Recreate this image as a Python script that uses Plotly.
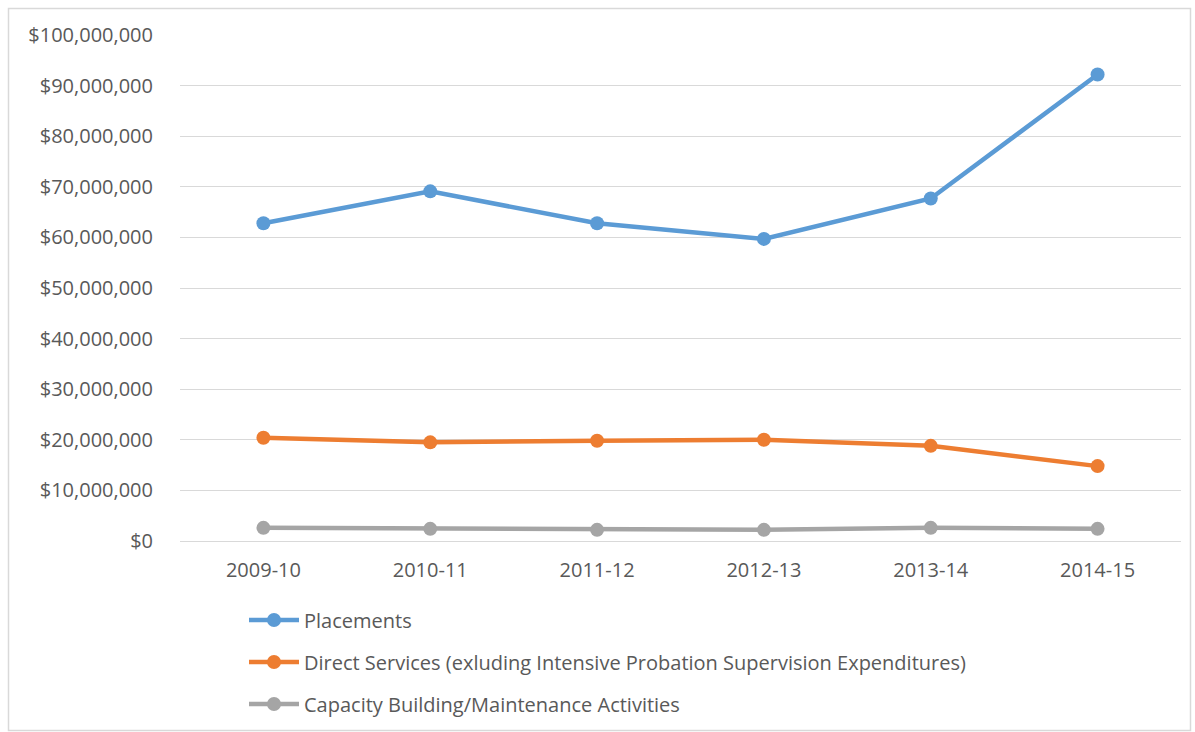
import plotly.graph_objects as go

years = ["2009-10", "2010-11", "2011-12", "2012-13", "2013-14", "2014-15"]
placements = [62.8e6, 69.1e6, 62.8e6, 59.7e6, 67.7e6, 92.2e6]
direct_services = [20.4e6, 19.5e6, 19.8e6, 20.0e6, 18.8e6, 14.8e6]
capacity = [2.6e6, 2.4e6, 2.2e6, 2.2e6, 2.6e6, 2.4e6]

names = [
    "Placements",
    "Direct Services (exluding Intensive Probation Supervision Expenditures)",
    "Capacity Building/Maintenance Activities",
]
series = [placements, direct_services, capacity]
colors = ["#5B9BD5", "#ED7D31", "#A5A5A5"]
legends = ["legend", "legend2", "legend3"]

W, H = 1195, 732
L, R, T, B = 180, 14, 35, 191
FONT = "'Open Sans', Lato, sans-serif"
FS = 20
TXT = "#595959"

fig = go.Figure()
for name, vals, col, lg in zip(names, series, colors, legends):
    fig.add_trace(go.Scatter(
        x=years, y=vals, name=name, mode="lines+markers",
        line=dict(color=col, width=4.5),
        marker=dict(color=col, size=14),
        legend=lg,
    ))

plot_h = H - T - B
plot_w = W - L - R

def py(pix):
    return (H - B - pix) / plot_h

def px(pix):
    return (pix - L) / plot_w

leg_common = dict(font=dict(family=FONT, size=FS, color=TXT), bgcolor="rgba(0,0,0,0)",
                  xanchor="left", yanchor="middle", x=px(244), itemwidth=50)
fig.update_layout(
    width=W, height=H,
    margin=dict(l=L, r=R, t=T, b=B, autoexpand=False),
    paper_bgcolor="white", plot_bgcolor="white",
    font=dict(family=FONT, size=FS, color=TXT),
    showlegend=True,
    legend=dict(**leg_common, y=py(620)),
    legend2=dict(**leg_common, y=py(662)),
    legend3=dict(**leg_common, y=py(704)),
    xaxis=dict(type="category", range=[-0.5, len(years) - 0.5], showgrid=False,
               showline=False, ticks="", tickfont=dict(size=FS, color=TXT),
               ticklabelstandoff=15),
    yaxis=dict(range=[0, 100e6], dtick=10e6, tickprefix="$", tickformat=",.0f",
               gridcolor="#D9D9D9", gridwidth=1, zeroline=True, zerolinecolor="#D9D9D9",
               zerolinewidth=1, showline=False, ticks="", tickfont=dict(size=FS, color=TXT),
               ticklabelstandoff=26),
    shapes=[dict(type="rect", xref="paper", yref="paper",
                 x0=px(8.5), x1=px(1190.5), y0=py(730.5), y1=py(8.5),
                 line=dict(color="#D9D9D9", width=1.5), fillcolor="rgba(0,0,0,0)", layer="below")],
)

fig.write_html("out.html")
